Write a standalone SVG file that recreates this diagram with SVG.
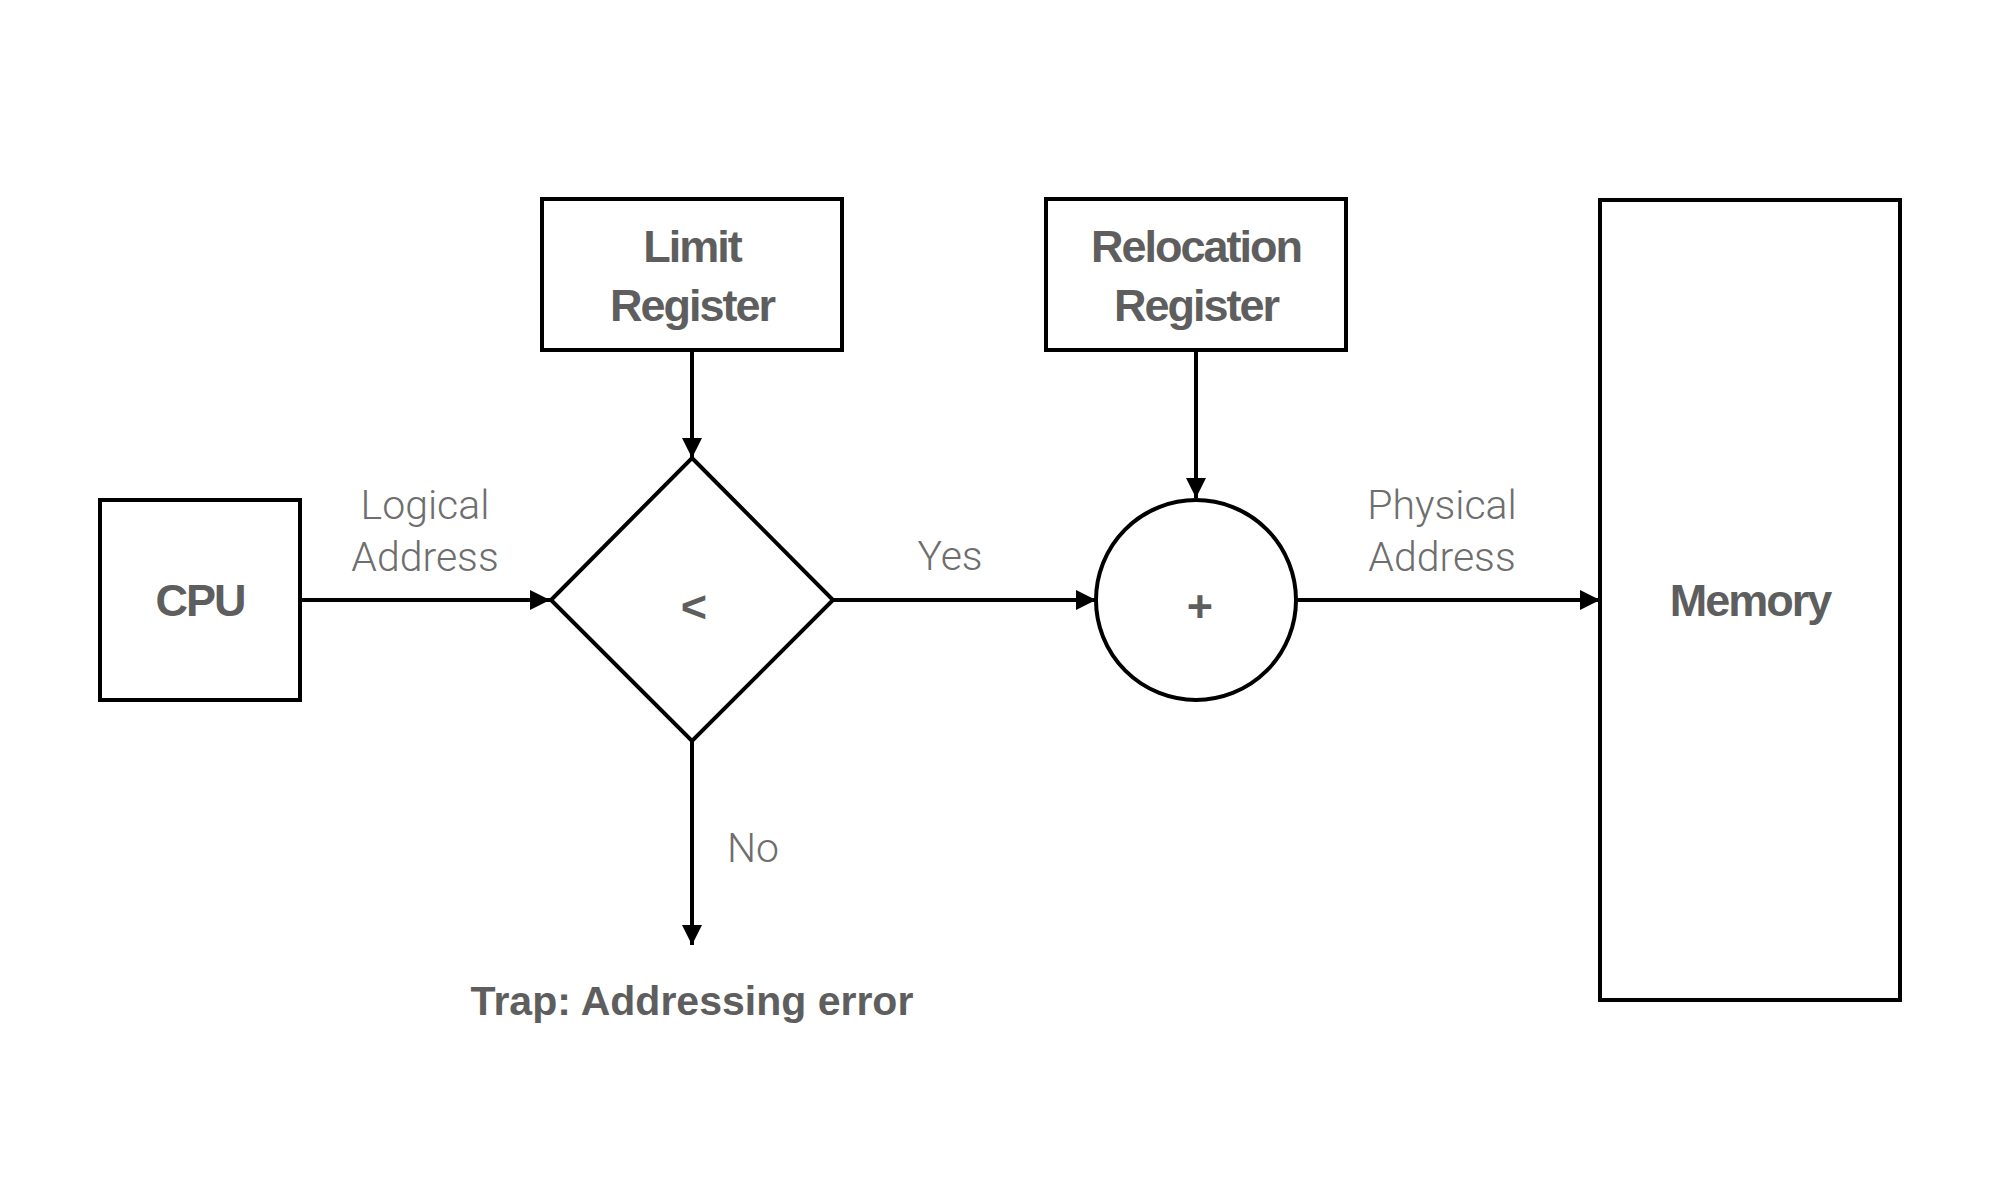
<svg xmlns="http://www.w3.org/2000/svg" width="2000" height="1200" viewBox="0 0 2000 1200">
<defs>
<marker id="arr" markerUnits="userSpaceOnUse" markerWidth="20" markerHeight="20" refX="20" refY="10" orient="auto">
<path d="M0,0 L20,10 L0,20 z" fill="#000"/>
</marker>
<style>
.shape{fill:#fff;stroke:#000;stroke-width:4}
.conn{stroke:#000;stroke-width:4;fill:none;marker-end:url(#arr)}
.bold{font-family:"Liberation Sans",Arial,sans-serif;font-weight:bold;font-size:45px;fill:#5e5e5e;text-anchor:middle;letter-spacing:-2px}
.light{font-family:Roboto,"Liberation Sans",sans-serif;font-weight:300;font-size:41px;fill:#6e6e6e;text-anchor:middle}
.trap{font-family:"Liberation Sans",Arial,sans-serif;font-weight:bold;font-size:41px;fill:#5e5e5e;text-anchor:middle}
</style>
</defs>
<rect width="2000" height="1200" fill="#fff"/>
<g id="connectors">
<line class="conn" x1="302" y1="600" x2="550" y2="600"/>
<line class="conn" x1="692" y1="350" x2="692" y2="458"/>
<line class="conn" x1="833" y1="600" x2="1096" y2="600"/>
<line class="conn" x1="1196" y1="350" x2="1196" y2="498"/>
<line class="conn" x1="1297" y1="600" x2="1600" y2="600"/>
<line class="conn" x1="692" y1="741" x2="692" y2="945"/>
<text class="light" x="425" y="519">Logical</text>
<text class="light" x="425" y="571">Address</text>
<text class="light" x="950" y="570">Yes</text>
<text class="light" x="1442" y="519">Physical</text>
<text class="light" x="1442" y="571">Address</text>
<text class="light" x="753" y="862">No</text>
</g>
<g id="cpu">
<rect class="shape" x="100" y="500" width="200" height="200"/>
<text class="bold" x="200" y="616">CPU</text>
</g>
<g id="limit-register">
<rect class="shape" x="542" y="199" width="300" height="151"/>
<text class="bold" x="692" y="262">Limit</text>
<text class="bold" x="692" y="321">Register</text>
</g>
<g id="relocation-register">
<rect class="shape" x="1046" y="199" width="300" height="151"/>
<text class="bold" x="1196" y="262">Relocation</text>
<text class="bold" x="1196" y="321">Register</text>
</g>
<g id="compare">
<polygon class="shape" points="692,458 833,600 692,741 551,600"/>
<text class="bold" x="693" y="622">&lt;</text>
</g>
<g id="adder">
<circle class="shape" cx="1196" cy="600" r="100"/>
<text class="bold" x="1199" y="622">+</text>
</g>
<g id="memory">
<rect class="shape" x="1600" y="200" width="300" height="800"/>
<text class="bold" x="1750" y="616">Memory</text>
</g>
<g id="trap">
<text class="trap" x="692" y="1015">Trap: Addressing error</text>
</g>
</svg>
